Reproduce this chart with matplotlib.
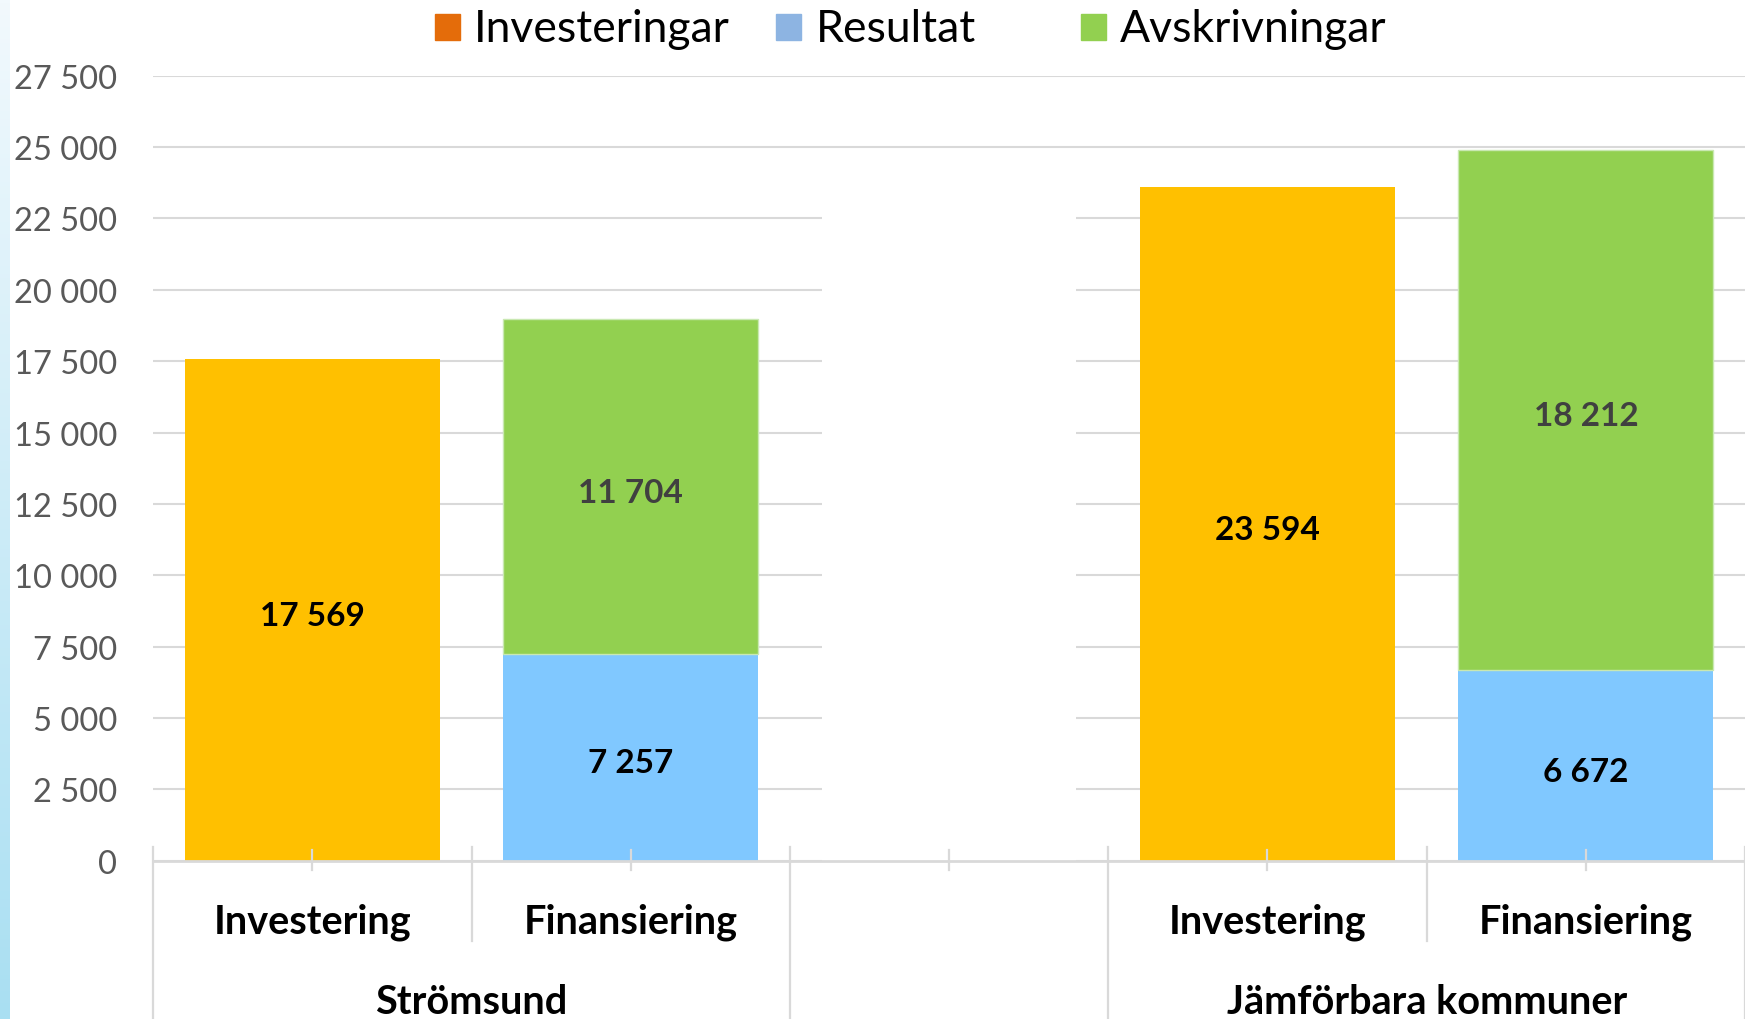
import numpy as np
import matplotlib
matplotlib.use("Agg")
import matplotlib.pyplot as plt
from matplotlib.patches import Rectangle
from matplotlib.transforms import blended_transform_factory
from matplotlib.colors import LinearSegmentedColormap

# ---------------- data ----------------
categories = ["Investering", "Finansiering", "", "Investering", "Finansiering"]
groups = ["Strömsund", "", "Jämförbara kommuner"]
group_spans = [(0, 1), (2, 2), (3, 4)]
investeringar = [17569, np.nan, np.nan, 23594, np.nan]
resultat = [np.nan, 7257, np.nan, np.nan, 6672]
avskrivningar = [np.nan, 11704, np.nan, np.nan, 18212]
spacer = [np.nan, np.nan, 24000, np.nan, np.nan]   # invisible white bar in the gap
legend_labels = ["Investeringar", "Resultat", "Avskrivningar"]
yticks = list(range(0, 27501, 2500))

# ---------------- style ----------------
FONT = "Lato"
plt.rcParams["font.family"] = [FONT, "DejaVu Sans"]
c_inv, c_res, c_avs = "#FFC000", "#80C8FF", "#92D050"
leg_colors = ["#E46C0A", "#8DB4E2", "#92D050"]
grid_c = "#D9D9D9"

W, H = 1745, 1020
fig = plt.figure(figsize=(W / 100, H / 100), dpi=100)
ax_left, ax_bottom_px, ax_top_px = 153.3, 861.7, 76.7
ax = fig.add_axes([ax_left / W, 1 - ax_bottom_px / H, 1 - ax_left / W,
                   (ax_bottom_px - ax_top_px) / H])

x = np.arange(len(categories))
bw = 0.8

def fmt(v):
    return f"{v:,.0f}".replace(",", " ")

def draw(vals, bottom=None, color="w", tcolor="black", edge=None, label=True):
    vals = np.asarray(vals, float)
    m = ~np.isnan(vals)
    b = np.zeros(m.sum()) if bottom is None else np.asarray(bottom, float)[m]
    bars = ax.bar(x[m], vals[m], bw, bottom=b, color=color,
                  edgecolor=edge if edge else color, linewidth=1 if edge else 0, zorder=2)
    if label:
        for rect, v in zip(bars, vals[m]):
            cx = rect.get_x() + rect.get_width() / 2
            cy = rect.get_y() + rect.get_height() / 2
            ax.annotate(fmt(v), (cx, cy), xytext=(0, -4), textcoords="offset points",
                        ha="center", va="center", fontsize=24, fontweight="bold",
                        color=tcolor, zorder=4)

draw(investeringar, color=c_inv)
draw(resultat, color=c_res)
draw(avskrivningar, bottom=resultat, color=c_avs, tcolor="#404040", edge="#C9E8B2")
draw(spacer, color="white", label=False)

ax.set_xlim(-0.5, len(categories) - 0.5)
ax.set_ylim(0, 27500)
ax.set_yticks(yticks)
ax.set_yticklabels([fmt(v) for v in yticks], fontsize=23.5, color="#595959")
ax.tick_params(axis="y", length=0, pad=26)
ax.set_xticks([])
ax.yaxis.grid(True, color=grid_c, linewidth=1.5)
ax.set_axisbelow(True)
for s in ax.spines.values():
    s.set_visible(False)
ax.axhline(0, color=grid_c, linewidth=2, zorder=3, clip_on=False)

# ---------------- multi-level category axis ----------------
tr = blended_transform_factory(ax.transData, ax.transAxes)
hpx = ax_bottom_px - ax_top_px
def ay(p):
    return (ax_bottom_px - p) / hpx

full_bounds = set()
for a, b in group_spans:
    full_bounds.add(a - 0.5)
    full_bounds.add(b + 0.5)
for xb in np.arange(-0.5, len(categories)):
    y1 = ay(1020) if xb in full_bounds else ay(942)
    ax.plot([xb, xb], [ay(848), y1], color=grid_c, lw=1.6, transform=tr, clip_on=False, zorder=3)
for xi in x:
    ax.plot([xi, xi], [ay(851), ay(871)], color=grid_c, lw=1.6, transform=tr, clip_on=False, zorder=3)
for xi, lab in zip(x, categories):
    ax.text(xi, ay(934), lab, transform=tr, ha="center", va="baseline",
            fontsize=28.5, fontweight="bold", color="black")
for (a, b), g in zip(group_spans, groups):
    ax.text((a + b) / 2, ay(1014), g, transform=tr, ha="center", va="baseline",
            fontsize=28.5, fontweight="bold", color="black")

# ---------------- legend ----------------
leg_sq_x = [435, 776, 1081]
leg_txt_x = [474, 816, 1120]
for sx, tx, col, lab in zip(leg_sq_x, leg_txt_x, leg_colors, legend_labels):
    fig.patches.append(Rectangle((sx / W, 1 - 41 / H), 25 / W, 26 / H, color=col,
                                 transform=fig.transFigure, figure=fig))
    fig.text(tx / W, 1 - 42 / H, lab, fontsize=32, color="black", va="baseline", ha="left")

# ---------------- left gradient strip ----------------
gax = fig.add_axes([0, 0, 9.5 / W, 1])
grad = np.linspace(0, 1, 256).reshape(-1, 1)
cmap = LinearSegmentedColormap.from_list("g", ["#F2F9FD", "#A9DFF2"])
gax.imshow(grad, aspect="auto", cmap=cmap, origin="upper")
gax.axis("off")

fig.savefig("out.png", dpi=100)
